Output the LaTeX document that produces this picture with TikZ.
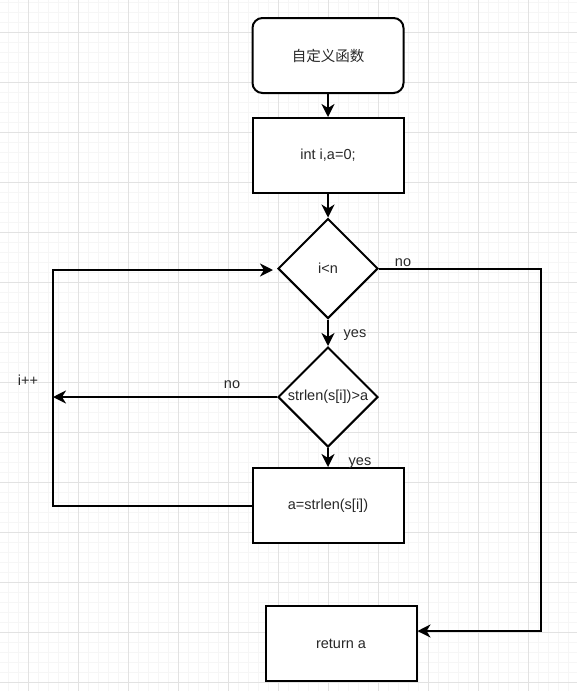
\documentclass[tikz,border=0pt]{standalone}
\usepackage{fontspec}
\setmainfont{Liberation Sans}
\newfontfamily\cjk{Noto Sans CJK SC}
\usepackage{tikz}
\usetikzlibrary{arrows.meta,shapes.geometric}
\definecolor{gridfine}{RGB}{246,246,246}
\definecolor{gridmajor}{RGB}{226,226,226}
\definecolor{flowtext}{RGB}{40,40,40}
\tikzset{
  fbase/.style ={draw=black, fill=white, line width=2pt, inner sep=0pt,
                 text=flowtext, font=\fontsize{14.5}{16}\selectfont},
  fstart/.style={fbase, rectangle, rounded corners=10pt,
                 minimum width=151pt, minimum height=75pt},
  fbox/.style  ={fbase, rectangle, minimum width=151pt, minimum height=75pt},
  fcond/.style ={fbase, diamond, aspect=1, minimum width=100pt, minimum height=100pt},
  flabel/.style={text=flowtext, font=\fontsize{14.5}{16}\selectfont, inner sep=0pt},
  fline/.style ={line width=2pt, black, line join=miter},
  farrow/.style={fline, -{Stealth[length=13pt, width=13pt, inset=4pt]}},
}
\begin{document}
\begin{tikzpicture}[x=1pt, y=-1pt, >=Stealth]
    \useasboundingbox[fill=white] (0,0) rectangle (577,691);
    \foreach \gx in {8,18,...,576} \draw[gridfine, line width=0.8pt] (\gx,0) -- (\gx,691);
    \foreach \gy in {2,12,...,690} \draw[gridfine, line width=0.8pt] (0,\gy) -- (577,\gy);
    \foreach \gx in {28,78,...,576} \draw[gridmajor, line width=0.8pt] (\gx,0) -- (\gx,691);
    \foreach \gy in {32,82,...,690} \draw[gridmajor, line width=0.8pt] (0,\gy) -- (577,\gy);
    \node[fstart] (func)   at (328, 55.5)  {\cjk 自定义函数};
    \node[fbox]   (init)   at (328, 155.5) {int i,a=0;};
    \node[fcond]  (loop)   at (328, 268.5) {i<n};
    \node[fcond]  (check)  at (328, 397)   {strlen(s[i])>a};
    \node[fbox]   (update) at (328, 505.5) {a=strlen(s[i])};
    \node[fbox]   (ret)    at (341, 643.5) {return a};
    \coordinate (backlow)  at (53, 505.5);
    \coordinate (backhigh) at (53, 270);
    \coordinate (loopin)   at (273, 270);
    \coordinate (skip)     at (53, 397);
    \coordinate (outtop)   at (541, 268.5);
    \coordinate (outlow)   at (541, 631);
    \coordinate (retin)    at (ret.east |- outlow);
    \draw[farrow] (func) -- (init);
    \draw[farrow] (init) -- (loop);
    \draw[farrow] (loop) -- (check);
    \draw[farrow] (check) -- (update);
    \draw[farrow] (check.west) -- (skip);
    \draw[farrow] (update.west) -- (backlow) -- (backhigh) -- (loopin);
    \draw[farrow] (loop.east) -- (outtop) -- (outlow) -- (retin);
    \node[flabel] at (355, 335) {yes};
    \node[flabel] at (360, 463) {yes};
    \node[flabel] at (403, 263) {no};
    \node[flabel] at (232, 385) {no};
    \node[flabel] at (28, 380)  {i++};
\end{tikzpicture}
\end{document}
